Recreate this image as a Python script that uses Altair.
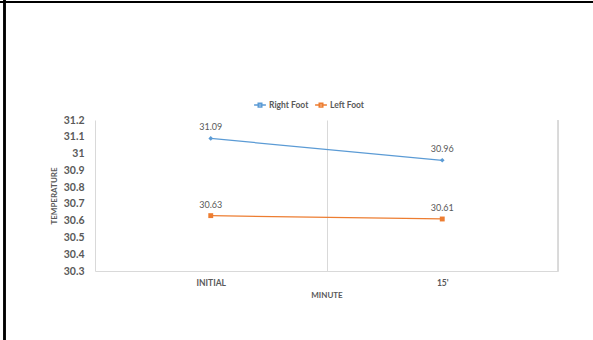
import altair as alt
import pandas as pd

minutes = ["INITIAL", "15'"]
series = ["Right Foot", "Left Foot"]
right_foot = [31.09, 30.96]
left_foot = [30.63, 30.61]
y_ticks = [30.3, 30.4, 30.5, 30.6, 30.7, 30.8, 30.9, 31.0, 31.1, 31.2]

rows = []
for m, v in zip(minutes, right_foot):
    rows.append({"minute": m, "series": "Right Foot", "temp": v})
for m, v in zip(minutes, left_foot):
    rows.append({"minute": m, "series": "Left Foot", "temp": v})
df = pd.DataFrame(rows)

FONT = "Lato"
GRAY = "#595959"
colors = ["#5B9BD5", "#ED7D31"]

x = alt.X("minute:N", sort=minutes, title="MINUTE",
          scale=alt.Scale(paddingInner=0, paddingOuter=0),
          axis=alt.Axis(labelAngle=0, labelFont=FONT, labelFontSize=8.5, labelFontWeight="bold",
                        labelColor=GRAY, labelPadding=7, ticks=False, tickBand="extent",
                        grid=True, gridColor="#D9D9D9", gridWidth=1,
                        domainColor="#D9D9D9", titleFont=FONT, titleFontSize=8,
                        titleFontWeight="bold", titleColor=GRAY, titlePadding=5))
y = alt.Y("temp:Q", title="TEMPERATURE",
          scale=alt.Scale(domain=[30.3, 31.2], nice=False, zero=False),
          axis=alt.Axis(values=y_ticks, format="~g", grid=False, ticks=False, domain=False,
                        labelFont=FONT, labelFontSize=10.5, labelFontWeight="bold",
                        labelColor=GRAY, labelPadding=11, titleFont=FONT, titleFontSize=8,
                        titleFontWeight="bold", titleColor=GRAY, titlePadding=5))
color_scale = alt.Scale(domain=series, range=colors)
color = alt.Color("series:N", scale=color_scale,
                  legend=alt.Legend(title=None, orient="none", legendX=158, legendY=-22,
                                    direction="horizontal",
                                    symbolType="M-1,0H1M-0.3,-0.3H0.3V0.3H-0.3Z",
                                    symbolSize=140, symbolStrokeWidth=1.5,
                                    labelFont=FONT, labelFontSize=8.5, labelFontWeight="bold",
                                    labelColor=GRAY, columnPadding=3, labelOffset=2))

base = alt.Chart(df)
lines = base.mark_line(strokeWidth=1.25).encode(x=x, y=y, color=color)
pts_right = base.transform_filter(alt.datum.series == "Right Foot").mark_point(
    filled=True, opacity=1, shape="diamond", size=22, color=colors[0]).encode(x=x, y=y)
pts_left = base.transform_filter(alt.datum.series == "Left Foot").mark_point(
    filled=True, opacity=1, shape="square", size=24, color=colors[1]).encode(x=x, y=y)
labels = base.mark_text(font=FONT, fontSize=9, color=GRAY, dy=-11).encode(
    x=x, y=y, text=alt.Text("temp:Q", format=".2f"))
right_edge = alt.Chart(df).mark_rule(color="#D9D9D9", strokeWidth=1).encode(
    x=alt.value(463), y=alt.value(0), y2=alt.value(151))
border_left = alt.Chart(df).mark_rule(color="#000000", strokeWidth=2).encode(
    x=alt.value(-90.5), y=alt.value(-120), y2=alt.value(220))
border_top = alt.Chart(df).mark_rule(color="#000000", strokeWidth=2).encode(
    x=alt.value(-95), x2=alt.value(498), y=alt.value(-118))

chart = alt.layer(lines, pts_right, pts_left, labels, right_edge, border_left, border_top).properties(
    width=463, height=151,
    autosize=alt.AutoSizeParams(type="none"),
    padding={"left": 95, "top": 120, "right": 35, "bottom": 69},
    background="white",
).configure_view(stroke=None)

chart.save("out.html", embed_options={"renderer": "svg", "actions": False})
